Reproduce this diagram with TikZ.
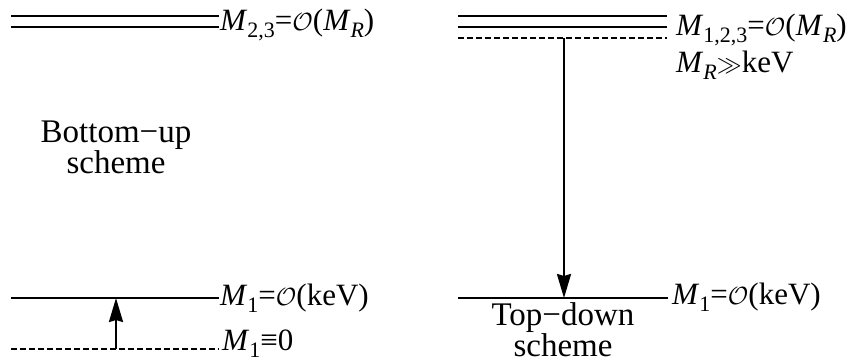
\documentclass[tikz,border=0pt]{standalone}
\usepackage{fontspec}
\setmainfont{Liberation Serif}
\usetikzlibrary{arrows.meta}
\newcommand\Ms[1]{\textit{M}\raisebox{-0.25em}{\fontsize{22}{22}\selectfont #1}}
\newcommand\calO{$\mathcal{O}$}
\begin{document}
\begin{tikzpicture}[x=1pt,y=-1pt,
  lvl/.style={line width=2.2pt},
  dlvl/.style={line width=2.2pt,dash pattern=on 6pt off 3pt},
  lab/.style={anchor=base west,inner sep=0pt,font=\fontsize{31}{34}\selectfont},
  txt/.style={align=center,inner sep=0pt,anchor=base,font=\fontsize{33}{29}\selectfont},
  arr/.style={line width=2.2pt,-{Stealth[length=24pt,width=14pt,inset=2pt]}}]
\useasboundingbox (0,0) rectangle (864,362);
% left top
\coordinate (la1) at (11,16); \coordinate (lb1) at (219,16);
\coordinate (la2) at (11,27); \coordinate (lb2) at (219,27);
\draw[lvl] (la1) -- (lb1); \draw[lvl] (la2) -- (lb2);
\node[lab] (l23) at (220,30) {\Ms{2,3}=\calO(\Ms{\textit{R}})};
\node[txt] (bu) at (116,173) {Bottom\textminus up\\scheme};
% left bottom
\coordinate (lc) at (11,298); \coordinate (ld) at (219,298);
\draw[lvl] (lc) -- (ld);
\node[lab] (l1) at (220,305) {\Ms{1}=\calO(keV)};
\coordinate (le) at (11,349); \coordinate (lf) at (219,349);
\draw[dlvl] (le) -- (lf);
\node[lab] (l0) at (222,350) {\Ms{1}≡0};
\coordinate (lup0) at (116,349); \coordinate (lup1) at (116,298);
\draw[arr] (lup0) -- (lup1);
% right top
\coordinate (ra1) at (458,16); \coordinate (rb1) at (667,16);
\coordinate (ra2) at (458,27); \coordinate (rb2) at (667,27);
\coordinate (ra3) at (458,38); \coordinate (rb3) at (667,38);
\draw[lvl] (ra1) -- (rb1); \draw[lvl] (ra2) -- (rb2);
\draw[dlvl] (ra3) -- (rb3);
\node[lab] (r123) at (676,35) {\Ms{1,2,3}=\calO(\Ms{\textit{R}})};
\node[lab] (rmr) at (676,72) {\Ms{\textit{R}}\(\gg\)keV};
% right bottom
\coordinate (rc) at (458,298); \coordinate (rd) at (668,298);
\draw[lvl] (rc) -- (rd);
\node[lab] (r1) at (672,304) {\Ms{1}=\calO(keV)};
\coordinate (rdn0) at (564,38); \coordinate (rdn1) at (564,298);
\draw[arr] (rdn0) -- (rdn1);
\node[txt] (td) at (563,356) {Top\textminus down\\scheme};
\end{tikzpicture}
\end{document}
